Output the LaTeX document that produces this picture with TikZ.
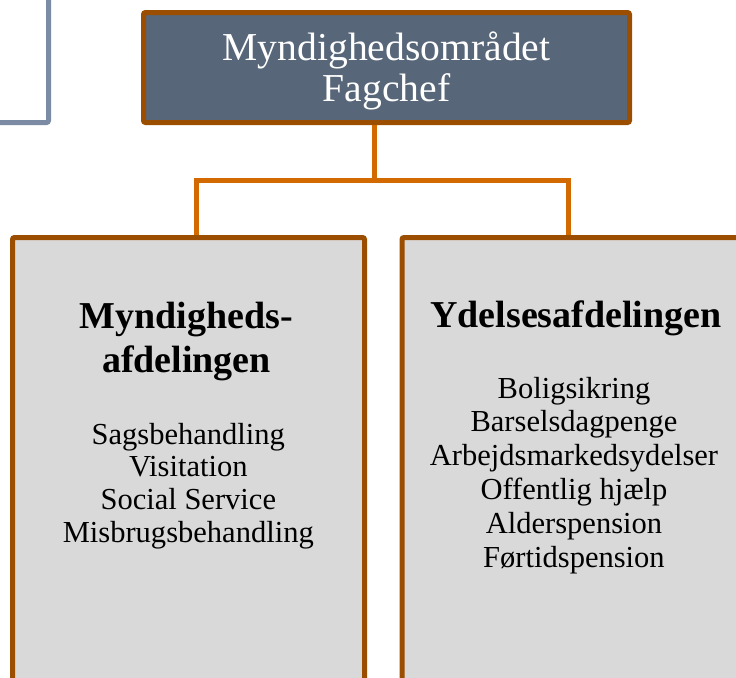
\documentclass[tikz,border=0pt]{standalone}
\usepackage{fontspec}
\setmainfont{Liberation Serif}
\definecolor{slate}{HTML}{576679}
\definecolor{framebrown}{HTML}{9B4E00}
\definecolor{connorange}{HTML}{D36A00}
\definecolor{panelgray}{HTML}{D9D9D9}
\definecolor{sidegray}{HTML}{7B8BA3}
\tikzset{
  boxframe/.style={draw=framebrown, line width=3.75pt, rounded corners=1.5pt, inner sep=0pt},
  conn/.style={draw=connorange, line width=3.75pt},
  % multi-line nodes are placed by the baseline of their last line
  headtext/.style={anchor=base, align=center, text=white, inner sep=0pt,
    font=\fontsize{29.7}{30.75}\selectfont},
  titletext/.style={anchor=base, align=center, inner sep=0pt,
    font=\bfseries\fontsize{28.5}{33}\selectfont},
  itemtext/.style={anchor=base, align=center, inner sep=0pt,
    font=\fontsize{22.9}{24.5}\selectfont}
}
\begin{document}
\begin{tikzpicture}[x=0.75pt, y=-0.75pt]
  \useasboundingbox (0,0) rectangle (736,678);
  \clip (0,0) rectangle (736,678);

  % frame of the neighbouring box, cut off at the top left
  \node[draw=sidegray, line width=3.75pt, rounded corners=1.5pt, inner sep=0pt,
        minimum width=75pt, minimum height=129.375pt] (side) at (-1.5,36.25) {};

  % boxes
  \node[boxframe, fill=slate, minimum width=364.5pt, minimum height=82.5pt] (head) at (386.5,67.5) {};
  \node[boxframe, fill=panelgray, minimum width=264pt, minimum height=361.875pt] (lbox) at (188.5,478.75) {};
  \node[boxframe, fill=panelgray, minimum width=261pt, minimum height=361.875pt] (rbox) at (576,478.75) {};

  % connectors
  \coordinate (hub) at (374,180);
  \coordinate (lj) at (196,180);
  \coordinate (rj) at (568,180);
  \draw[conn] (head.south -| hub) -- (hub);
  \draw[conn] (lbox.north -| lj) -- (lj) -- (rj) -- (rbox.north -| rj);

  % texts
  \node[headtext] (headtxt) at (386.5,101) {Myndighedsområdet\\Fagchef};
  \node[titletext] (ltitle) at (186.5,372) {Myndigheds-\\afdelingen};
  \node[itemtext] (litems) at (188.3,542) {Sagsbehandling\\Visitation\\Social Service\\Misbrugsbehandling};
  \node[titletext] (rtitle) at (576,327) {Ydelsesafdelingen};
  \node[itemtext, font=\fontsize{22.9}{25.35}\selectfont] (ritems) at (574,567)
    {Boligsikring\\Barselsdagpenge\\Arbejdsmarkedsydelser\\Offentlig hjælp\\Alderspension\\Førtidspension};
\end{tikzpicture}
\end{document}
